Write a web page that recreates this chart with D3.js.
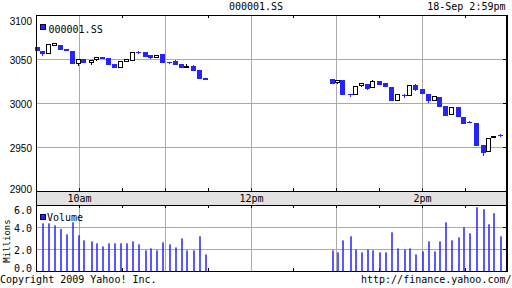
<!DOCTYPE html>
<html><head><meta charset="utf-8">
<script src="https://cdn.jsdelivr.net/npm/d3@7"></script>
<style>html,body{margin:0;padding:0;background:#fff}svg{display:block}</style>
</head><body>
<script>
// ---- data ----
const times = [
 "09:30:20","09:34:05","09:38:15","09:42:30","09:46:15","09:50:55","09:55:05","09:59:20","10:02:50","10:08:25",
 "10:11:55","10:16:05","10:20:05","10:24:20","10:28:30","10:32:45","10:37:10","10:41:20","10:46:05","10:49:45",
 "10:54:00","10:58:10","11:02:50","11:06:50","11:11:05","11:15:00","11:19:55","11:24:05","11:27:55",
 "12:56:55","13:00:50","13:04:20","13:09:55","13:13:25","13:17:40","13:21:50","13:25:20","13:30:15","13:34:30",
 "13:38:40","13:42:55","13:47:50","13:51:20","13:55:30","13:59:45","14:04:35","14:08:50","14:12:20","14:16:30",
 "14:20:45","14:25:15","14:29:10","14:33:20","14:37:35","14:42:30","14:46:40","14:50:10","14:54:25"];
const opens = [
 3064.0,3059.8,3056.4,3065.9,3066.6,3062.0,3059.8,3045.5,3050.7,3046.1,
 3049.5,3053.0,3051.5,3044.7,3040.5,3047.7,3048.4,3058.3,3058.0,3054.9,
 3051.8,3056.0,3046.7,3048.1,3044.7,3040.5,3042.4,3037.8,3029.1,
 3027.6,3024.2,3026.5,3010.8,3010.2,3020.0,3022.3,3018.0,3025.7,3023.1,
 3018.5,3003.0,3009.8,3008.9,3020.8,3016.2,3010.6,3003.4,3007.5,2996.9,
 2987.0,2995.8,2984.1,2978.7,2978.0,2952.6,2945.0,2960.9,2964.2];
const highs = [
 3064.0,3059.8,3066.6,3069.2,3066.6,3062.0,3059.8,3050.0,3050.7,3048.9,
 3053.0,3053.0,3051.5,3044.7,3048.1,3049.5,3058.6,3059.8,3058.0,3054.9,
 3054.9,3056.0,3047.2,3048.9,3044.7,3044.7,3043.5,3037.8,3029.1,
 3027.6,3026.5,3026.5,3010.8,3019.7,3022.7,3022.3,3026.3,3025.7,3023.1,
 3018.5,3010.7,3010.9,3020.8,3021.9,3016.2,3010.6,3008.3,3007.5,2996.9,
 2995.8,2995.8,2984.1,2979.9,2978.0,2952.6,2960.6,2962.8,2965.9];
const lows = [
 3059.8,3054.5,3056.4,3065.2,3060.9,3059.8,3045.0,3042.7,3046.1,3043.9,
 3048.4,3050.7,3044.3,3040.5,3040.5,3047.7,3048.4,3056.4,3052.6,3050.3,
 3051.8,3045.8,3044.7,3043.9,3039.8,3040.1,3036.7,3027.6,3026.5,
 3022.3,3022.3,3010.2,3007.2,3010.2,3019.3,3014.8,3018.0,3021.1,3019.3,
 3003.4,3003.0,3006.0,3008.9,3014.0,3010.9,3000.7,3003.4,2996.1,2985.9,
 2987.0,2984.1,2976.8,2977.3,2951.5,2940.1,2945.0,2960.9,2962.0];
const closes = [
 3059.8,3056.0,3066.6,3067.7,3060.9,3059.8,3045.0,3050.0,3046.1,3048.9,
 3051.8,3050.7,3044.3,3040.5,3048.1,3049.5,3057.5,3057.5,3052.6,3051.5,
 3054.9,3045.8,3046.1,3043.9,3039.8,3042.4,3036.7,3027.6,3026.5,
 3022.3,3026.5,3010.2,3010.2,3019.7,3022.3,3016.6,3025.1,3021.1,3019.3,
 3003.4,3010.7,3009.1,3020.8,3015.1,3010.9,3002.6,3008.3,2996.1,2985.9,
 2995.8,2984.1,2976.8,2978.1,2951.5,2943.5,2960.6,2962.8,2963.6];
const volumes = [
 0,4.38,4.38,4.20,3.87,3.38,4.47,3.29,2.83,2.74,
 2.56,2.28,2.56,2.56,2.56,2.56,2.74,2.47,1.92,2.10,
 1.92,2.65,2.47,2.19,3.01,1.92,1.92,3.20,1.55,
 1.92,1.74,2.83,3.20,2.00,1.74,2.00,1.92,1.74,1.74,
 3.56,2.10,2.00,2.10,1.55,1.83,2.74,1.83,2.74,4.47,
 2.83,3.10,4.02,3.47,5.84,5.66,4.29,5.30,3.20];
const priceTicks = [2900,2950,3000,3050,3100];
const volumeTicks = [0,2,4,6];
const volumeTickLabels = ["0.0","2.0","4.0","6.0"];
const hourLines = ["10:00","11:00","12:00","13:00","14:00"];
const halfHourTicks = ["10:30","11:30","12:30","13:30","14:30"];
const timeLabelTimes = ["10:00","12:00","14:00"];
const timeLabels = ["10am","12pm","2pm"];
const symbol = "000001.SS";
const stamp = "18-Sep 2:59pm";
const volumeLabel = "Volume";
const unitLabel = "Millions";
const footLeft = "Copyright 2009 Yahoo! Inc.";
const footRight = "http://finance.yahoo.com/";

// ---- drawing ----
const W = 512, H = 288;
const BLUE = "#2424ff", GRID = "#aaaaaa";
const MONO = "'DejaVu Sans Mono', monospace";
const SANS = "'Liberation Sans', Arial, sans-serif";
const parse = d3.timeParse("%H:%M:%S");
const pt = s => parse(s.length === 5 ? s + ":00" : s);

const svg = d3.select("body").append("svg").attr("width", W).attr("height", H);

const x = d3.scaleTime().domain([pt("09:30"), pt("15:00")]).range([36.5, 507.5]);
const y = d3.scaleLinear().domain([2900, 3100]).range([191.5, 15.5]);
const yv = d3.scaleLinear().domain([0, 6]).range([271.5, 205.5]);
const L = 36, R = 507;
const data = times.map((t, i) => ({t: pt(t), o: opens[i], h: highs[i], l: lows[i], c: closes[i], v: volumes[i]}));

const g = svg.append("g").attr("shape-rendering", "crispEdges");

// band
g.append("rect").attr("x", L).attr("y", 192).attr("width", R - L).attr("height", 13).attr("fill", "#e2e2e2");

// grid
const innerPrice = priceTicks.filter(v => v > 2900 && v < 3100);
g.selectAll(".hg").data(innerPrice).join("line")
  .attr("x1", L).attr("x2", R).attr("y1", d => y(d)).attr("y2", d => y(d)).attr("stroke", GRID);
const innerVol = volumeTicks.filter(v => v > 0 && v < 6);
g.selectAll(".hv").data(innerVol).join("line")
  .attr("x1", L).attr("x2", R).attr("y1", d => yv(d)).attr("y2", d => yv(d)).attr("stroke", GRID);
hourLines.forEach(h => {
  const xx = Math.round(x(pt(h))) + 0.5;
  g.append("line").attr("x1", xx).attr("x2", xx).attr("y1", 15).attr("y2", 192).attr("stroke", GRID);
  g.append("line").attr("x1", xx).attr("x2", xx).attr("y1", 205).attr("y2", 271).attr("stroke", GRID);
  g.append("line").attr("x1", xx).attr("x2", xx).attr("y1", 188).attr("y2", 192).attr("stroke", "#000");
  g.append("line").attr("x1", xx).attr("x2", xx).attr("y1", 205).attr("y2", 208).attr("stroke", "#000");
});
halfHourTicks.forEach(h => {
  const xx = Math.round(x(pt(h))) + 0.5;
  [[15, 18], [188, 192], [205, 208], [268, 271]].forEach(([a, b]) =>
    g.append("line").attr("x1", xx).attr("x2", xx).attr("y1", a).attr("y2", b).attr("stroke", "#000"));
});
// right-side ticks
innerPrice.forEach(v => g.append("line").attr("x1", R - 4).attr("x2", R).attr("y1", y(v)).attr("y2", y(v)).attr("stroke", "#000"));
innerVol.forEach(v => g.append("line").attr("x1", R - 4).attr("x2", R).attr("y1", yv(v)).attr("y2", yv(v)).attr("stroke", "#000"));

// volume bars
svg.append("g").selectAll("rect").data(data.filter(d => d.v > 0)).join("rect")
  .attr("x", d => Math.round(x(d.t)) + 0.25)
  .attr("width", 1.5)
  .attr("y", d => yv(d.v))
  .attr("height", d => yv(0) - yv(d.v))
  .attr("fill", BLUE);

// candles
const cg = g.append("g");
data.forEach(d => {
  const px = Math.round(x(d.t));
  const up = d.c >= d.o;
  const col = up ? "#000" : BLUE;
  cg.append("line").attr("x1", px + 0.5).attr("x2", px + 0.5)
    .attr("y1", y(d.h)).attr("y2", y(d.l)).attr("stroke", col);
  const top = y(Math.max(d.o, d.c)), bot = y(Math.min(d.o, d.c));
  const hh = Math.max(bot - top, 1);
  if (up) {
    cg.append("rect").attr("x", px - 1.5).attr("width", 4).attr("y", top).attr("height", Math.max(hh, 1))
      .attr("fill", "#fff").attr("stroke", "#000");
  } else {
    cg.append("rect").attr("x", px - 2).attr("width", 5).attr("y", top).attr("height", hh).attr("fill", BLUE);
  }
});

// frame
g.append("line").attr("x1", L).attr("x2", R + 1).attr("y1", 15.5).attr("y2", 15.5).attr("stroke", "#000");
g.append("line").attr("x1", L).attr("x2", R + 1).attr("y1", 191.5).attr("y2", 191.5).attr("stroke", "#000");
g.append("line").attr("x1", L).attr("x2", R + 1).attr("y1", 205.5).attr("y2", 205.5).attr("stroke", "#000");
g.append("line").attr("x1", L).attr("x2", R + 1).attr("y1", 271.5).attr("y2", 271.5).attr("stroke", "#000");
g.append("line").attr("x1", 36.5).attr("x2", 36.5).attr("y1", 15).attr("y2", 272).attr("stroke", "#000");
g.append("line").attr("x1", 507).attr("x2", 507).attr("y1", 15).attr("y2", 272).attr("stroke", "#000").attr("stroke-width", 2);

// texts
const txt = (s, xx, yy, anchor, font, size) => svg.append("text").text(s).attr("x", xx).attr("y", yy)
  .attr("text-anchor", anchor).attr("font-family", font).attr("font-size", size).attr("fill", "#000");

txt(symbol, 256, 10, "middle", MONO, 10);
txt(stamp, 505.5, 10, "end", MONO, 10);

priceTicks.forEach(v => txt(String(v), 32, Math.min(Math.max(y(v) + 4, 25), 193), "end", SANS, 10));
volumeTicks.forEach((v, i) => txt(volumeTickLabels[i], 32, Math.min(Math.max(yv(v) + 4, 213.5), 272), "end", MONO, 10));

timeLabelTimes.forEach((t, i) => txt(timeLabels[i], Math.round(x(pt(t))) + 0.5, 202, "middle", MONO, 10));

// legends
svg.append("rect").attr("x", 40.5).attr("y", 24.5).attr("width", 5).attr("height", 5).attr("fill", BLUE).attr("stroke", "#000066");
txt(symbol, 48.5, 32.5, "start", MONO, 10);
svg.append("rect").attr("x", 40.5).attr("y", 214.5).attr("width", 5).attr("height", 5).attr("fill", BLUE).attr("stroke", "#000066");
txt(volumeLabel, 47, 221, "start", MONO, 10);

svg.append("text").text(unitLabel).attr("transform", "translate(10,241) rotate(-90)")
  .attr("text-anchor", "middle").attr("font-family", MONO).attr("font-size", 9).attr("fill", "#000");

txt(footLeft, 0, 283, "start", MONO, 10);
txt(footRight, 511.5, 283, "end", MONO, 10);
</script>
</body></html>
